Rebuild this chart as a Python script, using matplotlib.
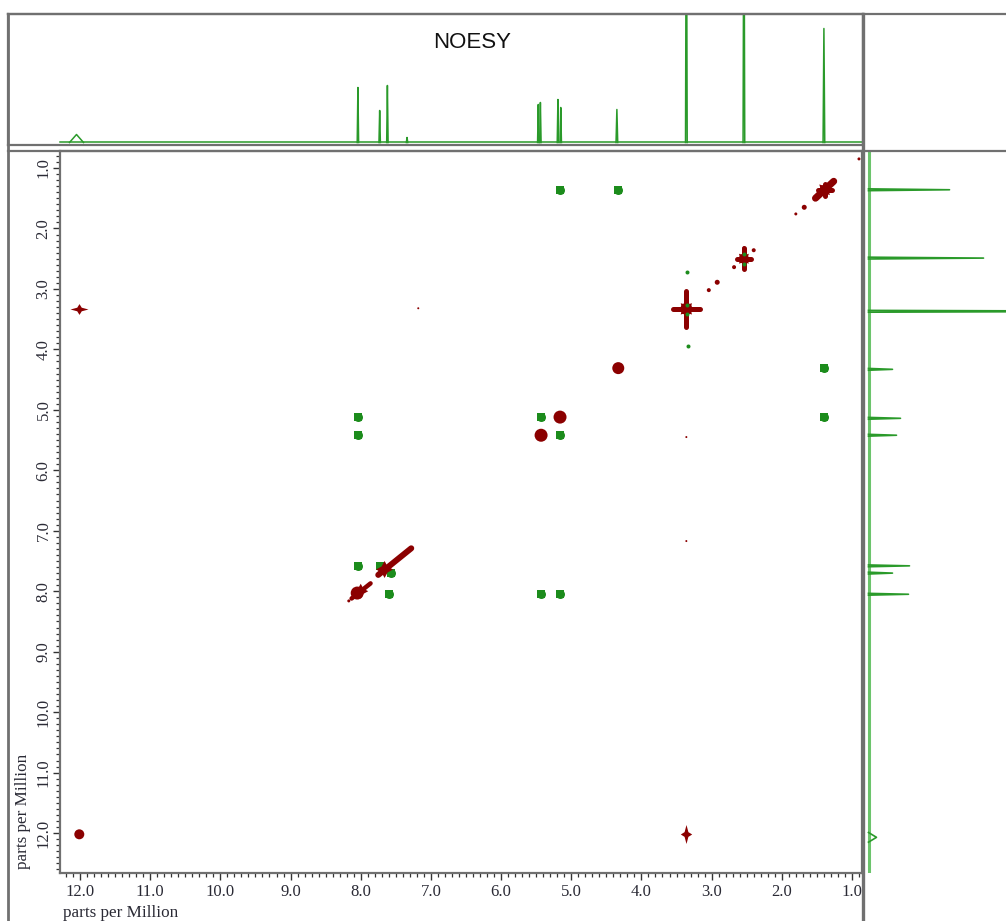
import numpy as np
import matplotlib
matplotlib.use("Agg")
import matplotlib.pyplot as plt
from matplotlib.lines import Line2D
from matplotlib.ticker import MultipleLocator, FormatStrFormatter

# ---------------- data ----------------
# 1D projection (F2, top): peak centre (ppm), height (arb.), half-width (ppm)
top_ppm    = [12.05, 8.04, 7.73, 7.62, 7.34, 5.47, 5.44, 5.19, 5.15, 4.35, 3.36, 2.54, 1.40]
top_height = [8, 55, 32, 57, 5, 38, 40, 43, 35, 33, 300, 300, 114]
top_hw     = [0.10, 0.01, 0.01, 0.01, 0.01, 0.01, 0.01, 0.01, 0.01, 0.012, 0.012, 0.012, 0.012]

# 1D projection (F1, right)
right_ppm    = [1.36, 2.49, 3.37, 4.33, 5.14, 5.42, 7.58, 7.70, 8.05, 12.07]
right_height = [81, 115, 300, 24, 32, 28, 41, 24, 40, 8]
right_hw     = [0.015, 0.015, 0.015, 0.015, 0.015, 0.015, 0.015, 0.015, 0.015, 0.08]

# 2D: dark-red (diagonal / positive) round peaks
red_f2   = [12.01, 4.33, 5.16, 5.43, 8.05]
red_f1   = [12.02, 4.31, 5.12, 5.42, 8.03]
red_diam = [10, 12, 13, 13, 13]

# 2D: small dark-red dots
dot_f2 = [3.04, 2.92, 2.68, 2.40, 2.54, 1.80, 1.68, 1.51, 0.90, 3.36, 3.36, 7.18, 8.17]
dot_f1 = [3.02, 2.89, 2.64, 2.36, 2.32, 1.76, 1.65, 1.48, 0.85, 5.45, 7.17, 3.32, 8.16]
dot_diam = [4, 5, 4, 4, 3, 3, 5, 4, 3, 2, 2, 2, 3]

# 2D: star-shaped strong peaks (centre, arm extents in ppm)
star_f2 = [3.36, 2.54, 1.39]
star_f1 = [3.33, 2.50, 1.36]
star_f2_arm = [0.19, 0.10, 0.10]
star_f1_arm = [0.30, 0.17, 0.10]

# 2D: elongated diagonal ridges (start / end in ppm)
ridge_f2_a = [7.28, 8.13, 1.52]
ridge_f1_a = [7.29, 8.12, 1.50]
ridge_f2_b = [7.75, 7.86, 1.26]
ridge_f1_b = [7.73, 7.87, 1.22]

# 2D: exchange peaks with 12.0 ppm (diamond shapes)
hdiam_f2, hdiam_f1 = [12.01], [3.33]
vdiam_f2, vdiam_f1 = [3.36], [12.02]

# 2D: green cross peaks
green_f2 = [5.16, 4.33, 8.04, 8.04, 5.43, 5.16, 1.40, 1.40, 8.04, 7.72, 7.57, 7.59, 5.43, 5.16]
green_f1 = [1.36, 1.36, 5.12, 5.42, 5.12, 5.42, 4.31, 5.12, 7.58, 7.58, 7.70, 8.05, 8.05, 8.05]
green_small_f2 = [3.35, 3.34, 3.35, 3.35, 2.54, 2.54]
green_small_f1 = [2.72, 3.94, 3.27, 3.41, 2.42, 2.58]

ticks_ppm = [1, 2, 3, 4, 5, 6, 7, 8, 9, 10, 11, 12]

# ---------------- styling / layout ----------------
W, H = 1006, 921
DARKRED = "#8b0000"
GREEN = "#1c8c1c"
SPEC = "#2a9a2a"
FRAME = "#707070"

def px(d):
    return d * 0.72  # px -> points at 100 dpi

def rect(l, t, r, b):
    return [l / W, 1 - b / H, (r - l) / W, (b - t) / H]

fig = plt.figure(figsize=(W / 100, H / 100), dpi=100)
fig.patch.set_facecolor("white")

# main axes
ax = fig.add_axes(rect(60, 151, 862, 873))
ax.set_xlim(12.285, 0.857)
ax.set_ylim(12.66, 0.719)

# green cross peaks (underneath)
ax.scatter(green_f2, green_f1, s=px(8) ** 2, marker="s", color=GREEN, lw=0, zorder=2)
ax.scatter(green_f2, green_f1, s=px(9) ** 2, marker="o", color=GREEN, lw=0, zorder=2)

# ridges
ridge_lw = [6, 4.5, 7]
for a2, a1, b2, b1, lw in zip(ridge_f2_a, ridge_f1_a, ridge_f2_b, ridge_f1_b, ridge_lw):
    ax.plot([a2, b2], [a1, b1], color=DARKRED, lw=px(lw), solid_capstyle="round", zorder=3)

# round peaks
ax.scatter(red_f2, red_f1, s=[px(d) ** 2 for d in red_diam], color=DARKRED, lw=0, zorder=3)
ax.scatter(dot_f2, dot_f1, s=[px(d) ** 2 for d in dot_diam], color=DARKRED, lw=0, zorder=3)

# stars
for c2, c1, a2, a1 in zip(star_f2, star_f1, star_f2_arm, star_f1_arm):
    ax.plot([c2 - a2, c2 + a2], [c1, c1], color=DARKRED, lw=px(5), solid_capstyle="round", zorder=3)
    ax.plot([c2, c2], [c1 - a1, c1 + a1], color=DARKRED, lw=px(5), solid_capstyle="round", zorder=3)
ax.scatter(star_f2, star_f1, s=[px(16) ** 2, px(14) ** 2, px(15) ** 2], marker=(4, 1, 45),
           color=DARKRED, lw=0, zorder=3)
ax.scatter(star_f2, star_f1, s=[px(12) ** 2, px(10) ** 2, px(10) ** 2], color=DARKRED, lw=0, zorder=3)

# 7.6 region stars
ax.scatter([7.66, 8.00], [7.64, 8.00], s=[px(17) ** 2, px(15) ** 2], marker=(4, 1, 0),
           color=DARKRED, lw=0, zorder=3)

# diamonds
hstar = [(-1, 0), (-0.25, 0.2), (0, 0.6), (0.25, 0.2), (1, 0), (0.25, -0.2), (0, -0.6), (-0.25, -0.2)]
vstar = [(y, x) for x, y in hstar]
ax.scatter(hdiam_f2, hdiam_f1, s=px(18) ** 2, marker=hstar, color=DARKRED, lw=0, zorder=3)
ax.scatter(vdiam_f2, vdiam_f1, s=px(19) ** 2, marker=vstar, color=DARKRED, lw=0, zorder=3)

# green on top inside stars
ax.scatter(green_small_f2, green_small_f1, s=px(4) ** 2, color=GREEN, lw=0, zorder=4)

# axes styling
for sp in ax.spines.values():
    sp.set_color(FRAME)
    sp.set_linewidth(1.6)
ax.xaxis.set_minor_locator(MultipleLocator(0.1))
ax.yaxis.set_minor_locator(MultipleLocator(0.1))
ax.set_xticks(ticks_ppm)
ax.set_yticks(ticks_ppm)
ax.xaxis.set_major_formatter(FormatStrFormatter("%.1f"))
ax.yaxis.set_major_formatter(FormatStrFormatter("%.1f"))
ax.tick_params(which="major", direction="out", length=px(7), width=1.0, color="#333333",
               labelsize=12, labelcolor="#2a2a35", pad=3)
ax.tick_params(axis="y", which="major", pad=1)
ax.tick_params(which="minor", direction="out", length=px(4), width=0.9, color="#333333")
ax.tick_params(axis="y", labelrotation=90)
for lab in ax.get_xticklabels() + ax.get_yticklabels():
    lab.set_family("Liberation Serif")
for lab in ax.get_yticklabels():
    lab.set_va("center")

fig.text(63 / W, 1 - 913 / H, "parts per Million", ha="left", va="center",
         family="Liberation Serif", fontsize=12.3, color="#2a2a35")
fig.text(23 / W, 1 - 869 / H, "parts per Million", ha="center", va="bottom", rotation=90,
         family="Liberation Serif", fontsize=12.3, color="#2a2a35")

# top 1D spectrum
axt = fig.add_axes(rect(8, 14, 863, 145))
axt.set_xlim(13.026, 0.843)
axt.set_ylim(-2.5, 128.5)
axt.plot([12.285, 0.857], [0, 0], color=SPEC, lw=1.1)
for c, h, w in zip(top_ppm, top_height, top_hw):
    axt.plot([c + w, c, c - w], [0, h, 0], color=SPEC, lw=1.1)
axt.set_xticks([])
axt.set_yticks([])
for sp in axt.spines.values():
    sp.set_color(FRAME)
    sp.set_linewidth(1.6)
fig.text(472 / W, 1 - 42 / H, "NOESY", ha="center", va="center",
         family="Liberation Sans", fontsize=16, color="#111111")

# right 1D spectrum
axr = fig.add_axes(rect(863, 151, 1006, 873))
axr.set_ylim(12.66, 0.719)
axr.set_xlim(-5.5, 137.5)
axr.plot([0, 0], [12.66, 0.72], color="#6cc46c", lw=2.2)
for c, h, w in zip(right_ppm, right_height, right_hw):
    axr.plot([0, h, 0], [c - w, c, c + w], color=SPEC, lw=1.2)
axr.set_xticks([])
axr.set_yticks([])
for sp in axr.spines.values():
    sp.set_visible(False)

# frame lines (figure pixels)
def fline(x0, y0, x1, y1, lw=1.6, color=FRAME):
    fig.add_artist(Line2D([x0 / W, x1 / W], [1 - y0 / H, 1 - y1 / H],
                          transform=fig.transFigure, color=color, lw=lw))

fline(8, 14, 8, 921, lw=2.0)
fline(8, 14, 1006, 14)
fline(8, 151, 1006, 151)
fline(863, 14, 863, 921, lw=2.4)

fig.savefig("out.png", dpi=100, facecolor="white")
